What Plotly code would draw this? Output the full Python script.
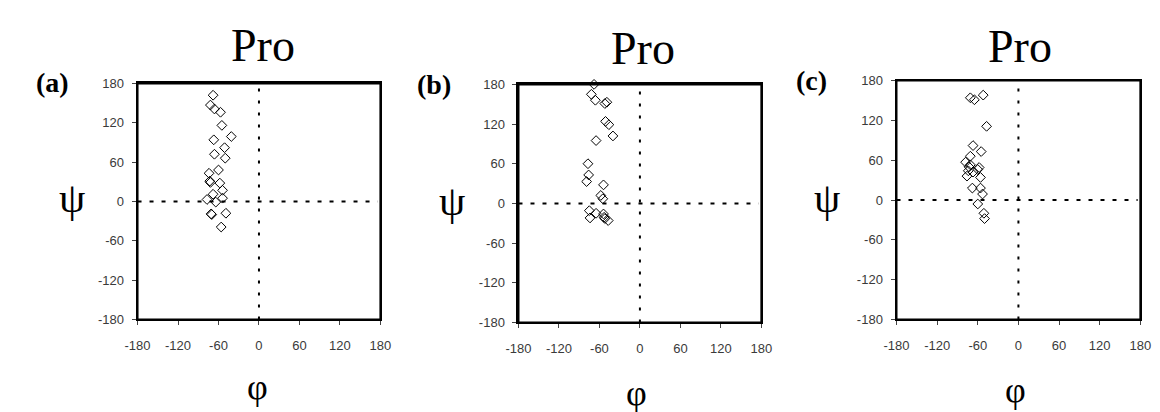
import plotly.graph_objects as go

W, H = 1160, 412

# Panel data (phi, psi)
phi_a = [-68, -72, -66, -57, -55, -41, -67, -51, -50, -66, -60, -74, -72, -58, -54, -68, -77, -64, -54, -71, -49, -56, -73, -70]
psi_a = [162, 147, 141, 136, 116, 99, 94, 82, 66, 72, 48, 43, 29, 28, 17, 11, 3, -1, 5, -19, -18, -39, 31, -20]

phi_b = [-68, -72, -66, -52, -49, -51, -46, -40, -65, -77, -76, -79, -54, -58, -55, -75, -74, -65, -54, -52, -47, -53]
psi_b = [180, 165, 156, 151, 153, 124, 119, 102, 95, 60, 43, 33, 28, 12, 7, -11, -22, -15, -16, -23, -26, -21]

phi_c = [-71, -65, -52, -47, -67, -55, -71, -78, -71, -58, -74, -76, -56, -68, -56, -53, -60, -51, -50, -73, -60, -67]
psi_c = [154, 151, 158, 111, 82, 73, 66, 57, 53, 49, 44, 36, 34, 18, 18, 9, -6, -20, -28, 50, 46, 42]

panel_labels = ["(a)", "(b)", "(c)"]
panel_titles = ["Pro", "Pro", "Pro"]
tick_vals = [-180, -120, -60, 0, 60, 120, 180]
tick_text = ["-180", "-120", "-60", "0", "60", "120", "180"]

# pixel boxes: left, right, top, bottom
boxes = [(119, 367, 71, 316), (508, 756, 72, 319), (894, 1143, 68, 316)]
title_pos = [(247, 32), (635, 35), (1020, 33)]
label_pos = [(32, 70), (422, 72), (807, 68)]
psi_pos = [(52, 190), (440, 193), (823, 190)]
phi_pos = [(242, 386), (628, 392), (1015, 389)]

def px(x):
    return x / W

def py(y):
    return 1 - y / H

fig = go.Figure()
datasets = [(phi_a, psi_a), (phi_b, psi_b), (phi_c, psi_c)]
annotations = []
shapes = []
for i, ((xs, ys), box) in enumerate(zip(datasets, boxes)):
    n = "" if i == 0 else str(i + 1)
    xa, ya = "x" + n, "y" + n
    fig.add_trace(go.Scatter(
        x=xs, y=ys, mode="markers", xaxis=xa, yaxis=ya,
        marker=dict(symbol="diamond-open", size=7.5, color="black", line=dict(width=1, color="black")),
        showlegend=False, cliponaxis=False,
    ))
    l, r, t, b = box
    axis_common = dict(
        range=[-180, 180], tickvals=tick_vals, ticktext=tick_text,
        showgrid=False, zeroline=False, showline=True, linewidth=2, linecolor="black",
        mirror=True, ticks="outside", ticklen=4, tickwidth=1, tickcolor="#444",
        tickfont=dict(family="Liberation Sans, Arial", size=13, color="#3a3a3a"),
        fixedrange=True,
    )
    fig.layout["xaxis" + n] = dict(axis_common, domain=[px(l), px(r)], anchor=ya, ticklabelstandoff=9)
    fig.layout["yaxis" + n] = dict(axis_common, domain=[py(b), py(t)], anchor=xa, ticklabelstandoff=5)
    # frame
    shapes.append(dict(type="rect", xref=xa + " domain", yref=ya + " domain", x0=0, x1=1, y0=0, y1=1,
                       line=dict(color="black", width=2), layer="above"))
    # dotted zero lines
    shapes.append(dict(type="line", xref=xa, yref=ya, x0=0, x1=0, y0=-180, y1=175,
                       line=dict(color="black", width=2, dash="3px,9px")))
    shapes.append(dict(type="line", xref=xa, yref=ya, x0=-180, x1=176, y0=0, y1=0,
                       line=dict(color="black", width=2, dash="4px,8px")))
    tx, ty = title_pos[i]
    annotations.append(dict(text=panel_titles[i], x=px(tx), y=py(ty), xref="paper", yref="paper",
                            showarrow=False, xanchor="center", yanchor="middle",
                            font=dict(family="Liberation Serif, Times New Roman", size=46, color="black")))
    lx, ly = label_pos[i]
    annotations.append(dict(text="<b>" + panel_labels[i] + "</b>", x=px(lx), y=py(ly), xref="paper", yref="paper",
                            showarrow=False, xanchor="center", yanchor="middle",
                            font=dict(family="Liberation Serif, Times New Roman", size=28, color="black")))
    sx, sy = psi_pos[i]
    annotations.append(dict(text="ψ", x=px(sx), y=py(sy), xref="paper", yref="paper",
                            showarrow=False, xanchor="center", yanchor="middle",
                            font=dict(family="Liberation Serif, Times New Roman", size=42, color="black")))
    fx, fy = phi_pos[i]
    annotations.append(dict(text="φ", x=px(fx), y=py(fy), xref="paper", yref="paper",
                            showarrow=False, xanchor="center", yanchor="middle",
                            font=dict(family="Liberation Serif, Times New Roman", size=36, color="black")))

fig.update_layout(
    width=W, height=H, margin=dict(l=0, r=0, t=0, b=0),
    paper_bgcolor="white", plot_bgcolor="white",
    annotations=annotations, shapes=shapes,
)

fig.write_html("out.html")
